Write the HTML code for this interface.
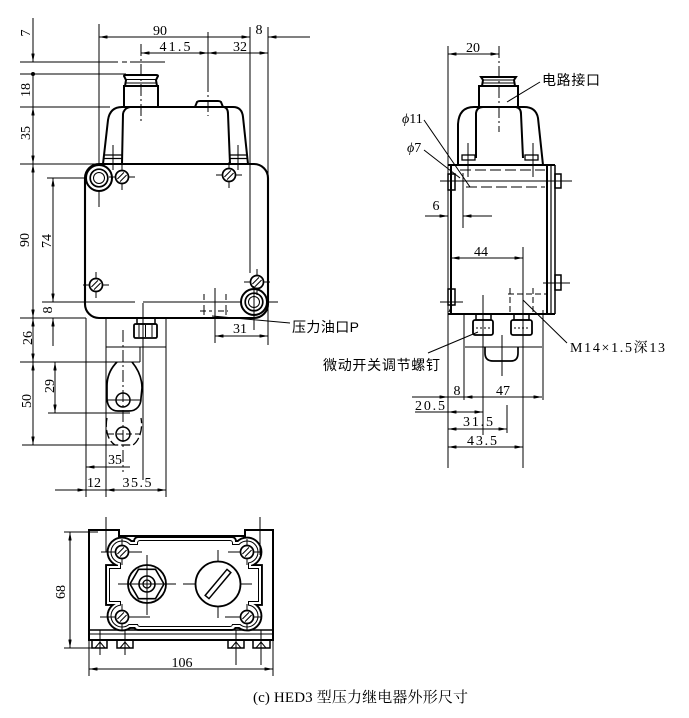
<!DOCTYPE html>
<html><head><meta charset="utf-8"><style>
html,body{margin:0;padding:0;background:#fff;}
svg{display:block;}
.t{stroke:#000;stroke-width:1;fill:none;}
.k{stroke:#000;stroke-width:2;fill:none;}
.n{font-family:"Liberation Serif",serif;font-size:14px;fill:#000;}
.c{font-family:"Liberation Sans","Noto Sans CJK SC",sans-serif;font-size:14px;fill:#000;}
.dd{stroke-dasharray:12 3 2 3;}
.ds{stroke-dasharray:6 3;}
</style></head><body>
<svg width="689" height="718" viewBox="0 0 689 718" xmlns="http://www.w3.org/2000/svg">
<defs>
<marker id="a" viewBox="0 0 10 4" refX="10" refY="2" markerWidth="9" markerHeight="3.4" orient="auto-start-reverse" markerUnits="userSpaceOnUse"><path d="M0,0L10,2L0,4z" fill="#000"/></marker>
<g id="sc"><circle r="6.5" fill="#fff" stroke="#000" stroke-width="1.7"/><line x1="-4.6" y1="2" x2="2" y2="-4.6" class="t"/><line x1="-2" y1="4.6" x2="4.6" y2="-2" class="t"/><line x1="-13" y1="0" x2="-6.5" y2="0" class="t"/><line x1="6.5" y1="0" x2="13" y2="0" class="t"/><line x1="0" y1="-13" x2="0" y2="-6.5" class="t"/><line x1="0" y1="6.5" x2="0" y2="13" class="t"/></g>
<g id="rg"><circle r="13" fill="#fff" stroke="#000" stroke-width="2"/><circle r="8.8" fill="none" stroke="#000" stroke-width="1.7"/><circle r="5.5" class="t"/></g>
</defs>
<rect width="689" height="718" fill="#fff"/>

<!-- ============ LEFT VIEW ============ -->
<line x1="99" y1="24" x2="99" y2="207" class="t"/>
<line x1="250" y1="27" x2="250" y2="273" class="t"/>
<line x1="268" y1="27" x2="268" y2="345" class="t"/>
<line x1="141" y1="44" x2="141" y2="122" class="t dd"/>
<line x1="208" y1="32" x2="208" y2="80" class="t"/>
<line x1="208" y1="80" x2="208" y2="116" class="t dd"/>
<line x1="99" y1="37" x2="250" y2="37" class="t" marker-start="url(#a)" marker-end="url(#a)"/>
<line x1="268" y1="37" x2="310" y2="37" class="t" marker-start="url(#a)"/>
<line x1="141" y1="53" x2="208" y2="53" class="t" marker-start="url(#a)" marker-end="url(#a)"/>
<line x1="208" y1="53" x2="268" y2="53" class="t" marker-start="url(#a)" marker-end="url(#a)"/>
<text class="n" x="160" y="35" text-anchor="middle">90</text>
<text class="n" x="259" y="34" text-anchor="middle">8</text>
<text class="n" x="175" y="51" text-anchor="middle" textLength="31">41.5</text>
<text class="n" x="240" y="51" text-anchor="middle">32</text>

<line x1="33" y1="18" x2="33" y2="62" class="t" marker-end="url(#a)"/>
<circle cx="33" cy="74" r="2" fill="#000"/>
<line x1="33" y1="74" x2="33" y2="107" class="t"/>
<line x1="33" y1="107" x2="33" y2="164" class="t" marker-start="url(#a)" marker-end="url(#a)"/>
<line x1="33" y1="164" x2="33" y2="318" class="t" marker-start="url(#a)" marker-end="url(#a)"/>
<line x1="33" y1="318" x2="33" y2="362" class="t" marker-start="url(#a)" marker-end="url(#a)"/>
<line x1="33" y1="362" x2="33" y2="445" class="t" marker-start="url(#a)" marker-end="url(#a)"/>
<line x1="20" y1="62" x2="118" y2="62" class="t"/>
<line x1="122" y1="62" x2="165" y2="62" class="t" style="stroke-dasharray:5 3 30 0"/>
<line x1="20" y1="74" x2="126" y2="74" class="t"/>
<line x1="20" y1="107" x2="110" y2="107" class="t"/>
<line x1="20" y1="164" x2="103" y2="164" class="t"/>
<line x1="20" y1="318" x2="86" y2="318" class="t"/>
<line x1="20" y1="362" x2="140" y2="362" class="t"/>
<line x1="22" y1="445" x2="118" y2="445" class="t"/>
<line x1="47" y1="178" x2="113" y2="178" class="t"/>
<line x1="42" y1="302" x2="135" y2="302" class="t"/>
<line x1="143" y1="302" x2="278" y2="302" class="t"/>
<line x1="48" y1="413" x2="130" y2="413" class="t"/>
<line x1="53" y1="178" x2="53" y2="302" class="t" marker-start="url(#a)" marker-end="url(#a)"/>
<line x1="53" y1="318" x2="53" y2="346" class="t" marker-start="url(#a)"/>
<line x1="55" y1="362" x2="55" y2="413" class="t" marker-start="url(#a)" marker-end="url(#a)"/>
<g class="n" text-anchor="middle">
<text transform="translate(25,33) rotate(-90)" y="5">7</text>
<text transform="translate(25,90) rotate(-90)" y="5">18</text>
<text transform="translate(25,133) rotate(-90)" y="5">35</text>
<text transform="translate(24,240) rotate(-90)" y="5">90</text>
<text transform="translate(46,241) rotate(-90)" y="5">74</text>
<text transform="translate(47,310) rotate(-90)" y="5">8</text>
<text transform="translate(27,338) rotate(-90)" y="5">26</text>
<text transform="translate(49,386) rotate(-90)" y="5">29</text>
<text transform="translate(26,401) rotate(-90)" y="5">50</text>
</g>

<path d="M103,164 L108,120 Q110,107 122,107 L233,107 Q242,107 243,117 L248,164" class="k"/>
<path d="M122,164 L123,114 Q124,108 130,107 M224,107 Q228,108 228,114 L230,164" class="k"/>
<line x1="104" y1="155" x2="122" y2="155" class="k" style="stroke-width:1.3"/>
<line x1="104" y1="158.5" x2="122" y2="158.5" class="k" style="stroke-width:1.3"/>
<line x1="230" y1="155" x2="247" y2="155" class="k" style="stroke-width:1.3"/>
<line x1="230" y1="158.5" x2="247" y2="158.5" class="k" style="stroke-width:1.3"/>
<line x1="113" y1="145" x2="113" y2="170" class="t"/>
<line x1="238" y1="145" x2="238" y2="170" class="t"/>
<path d="M195,107 L197,102 Q198,101 200,101 L218,101 Q220,101 221,102 L223,107" class="k"/>
<rect x="124" y="86" width="34" height="21" class="k"/>
<path d="M125,86 L126,80 L124,76 Q124,75 126,75 L156,75 Q158,75 158,76 L156,80 L157,86" class="k"/>
<line x1="126" y1="79.5" x2="156" y2="79.5" class="t"/>
<line x1="125" y1="83" x2="157" y2="83" class="t"/>

<rect x="85" y="164" width="183" height="154" rx="14" class="k" style="stroke-width:2.1"/>
<use href="#rg" x="99" y="178"/>
<use href="#rg" x="254" y="302"/>
<use href="#sc" x="122" y="177"/>
<use href="#sc" x="229" y="175"/>
<use href="#sc" x="96" y="285"/>
<use href="#sc" x="257" y="282"/>
<line x1="99" y1="190" x2="99" y2="207" class="t"/>
<line x1="254" y1="286" x2="254" y2="330" class="t"/>
<line x1="215" y1="288" x2="215" y2="343" class="t"/>
<line x1="204" y1="294" x2="204" y2="300" class="t"/>
<line x1="226" y1="294" x2="226" y2="300" class="t"/>
<line x1="204" y1="305" x2="204" y2="315" class="t"/>
<line x1="226" y1="305" x2="226" y2="315" class="t"/>
<line x1="200" y1="311" x2="212" y2="311" class="t ds"/>
<line x1="218" y1="311" x2="228" y2="311" class="t ds"/>
<line x1="212" y1="316" x2="290" y2="323" class="t"/>
<text class="c" x="292" y="332" textLength="67">压力油口P</text>
<line x1="215" y1="336" x2="268" y2="336" class="t" marker-start="url(#a)" marker-end="url(#a)"/>
<text class="n" x="240" y="333" text-anchor="middle">31</text>

<line x1="86" y1="318" x2="86" y2="497" class="t"/>
<line x1="106" y1="318" x2="106" y2="497" class="t"/>
<line x1="143" y1="303" x2="143" y2="480" class="t"/>
<line x1="166" y1="318" x2="166" y2="497" class="t"/>
<line x1="123" y1="330" x2="123" y2="472" class="t dd"/>
<line x1="106" y1="347" x2="166" y2="347" class="t"/>
<line x1="140" y1="347" x2="140" y2="362" class="t"/>
<rect x="137" y="318" width="18" height="6" class="k" style="stroke-width:1.5"/>
<rect x="134" y="324" width="23" height="14" rx="1.5" class="k" style="stroke-width:1.8"/>
<line x1="139" y1="325" x2="139" y2="337" class="t"/>
<line x1="145.5" y1="325" x2="145.5" y2="337" class="t"/>
<line x1="152" y1="325" x2="152" y2="337" class="t"/>
<path d="M117,362 C111,368 107,376 107,386 L107,398 C107,406 111,411 118,411 L129,411 C137,411 141,405 141,398 L142,388 C142,377 137,368 132,362" class="k" style="stroke-width:1.7"/>
<path d="M107,418 C105,428 107,440 115,445 L133,445 C140,440 143,428 141,418" class="t" style="stroke-width:1.3;stroke-dasharray:9 3"/>
<circle cx="123" cy="400" r="7" class="k" style="stroke-width:1.5"/>
<circle cx="123" cy="434" r="7" class="k" style="stroke-width:1.5"/>
<line x1="108" y1="400" x2="140" y2="400" class="t"/>
<line x1="108" y1="434" x2="140" y2="434" class="t ds"/>
<line x1="86" y1="467" x2="130" y2="467" class="t" marker-start="url(#a)"/>
<text class="n" x="115" y="464" text-anchor="middle">35</text>
<line x1="55" y1="490" x2="86" y2="490" class="t" marker-end="url(#a)"/>
<line x1="86" y1="490" x2="106" y2="490" class="t"/>
<line x1="106" y1="490" x2="166" y2="490" class="t" marker-start="url(#a)" marker-end="url(#a)"/>
<text class="n" x="94" y="487" text-anchor="middle">12</text>
<text class="n" x="137" y="487" text-anchor="middle" textLength="29">35.5</text>

<!-- ============ RIGHT VIEW ============ -->
<line x1="448" y1="46" x2="448" y2="468" class="t"/>
<line x1="499" y1="46" x2="499" y2="132" class="t dd"/>
<line x1="448" y1="54" x2="499" y2="54" class="t" marker-start="url(#a)" marker-end="url(#a)"/>
<text class="n" x="473" y="52" text-anchor="middle">20</text>
<path d="M458,165 L458,124 Q459,107 474,107 L524,107 Q536,107 538,118 L543,165" class="k"/>
<path d="M476,158 L476,113 Q477,107 483,107 M516,107 Q521,108 521,114 L523,158" class="k"/>
<rect x="462" y="155" width="13" height="5" class="k" style="stroke-width:1.3"/>
<rect x="525" y="155" width="13" height="5" class="k" style="stroke-width:1.3"/>
<line x1="468" y1="143" x2="468" y2="177" class="t"/>
<line x1="533" y1="143" x2="533" y2="177" class="t"/>
<rect x="479" y="86" width="39" height="21" class="k"/>
<path d="M482,86 L483,80 L481,77 L516,77 L514,80 L515,86" class="k"/>
<line x1="483" y1="80" x2="514" y2="80" class="t"/>
<line x1="482" y1="83" x2="515" y2="83" class="t"/>
<line x1="540" y1="82" x2="507" y2="102" class="t"/>
<text class="c" x="542" y="85" textLength="58">电路接口</text>
<line x1="448" y1="165" x2="555" y2="165" class="k"/>
<line x1="451" y1="165" x2="451" y2="314" class="k"/>
<line x1="547" y1="165" x2="547" y2="314" class="k"/>
<line x1="551" y1="165" x2="551" y2="314" class="k" style="stroke-width:1.2"/>
<line x1="555" y1="165" x2="555" y2="314" class="k" style="stroke-width:1.5"/>
<line x1="448" y1="314" x2="555" y2="314" class="k"/>
<rect x="448" y="174" width="7" height="16" class="k" style="stroke-width:1.5"/>
<rect x="448" y="289" width="7" height="16" class="k" style="stroke-width:1.5"/>
<line x1="452" y1="305" x2="449" y2="312" class="t"/>
<rect x="555" y="174" width="6" height="14" class="k" style="stroke-width:1.5"/>
<rect x="555" y="275" width="6" height="15" class="k" style="stroke-width:1.5"/>
<line x1="440" y1="181" x2="572" y2="181" class="t"/>
<line x1="440" y1="302" x2="463" y2="302" class="t"/>
<line x1="543" y1="283" x2="570" y2="283" class="t"/>
<line x1="460" y1="170" x2="545" y2="170" class="t" style="stroke-dasharray:11 4"/>
<line x1="466" y1="187" x2="545" y2="187" class="t" style="stroke-dasharray:11 4"/>
<line x1="463" y1="173" x2="463" y2="228" class="t"/>
<line x1="510" y1="288" x2="510" y2="312" class="t ds"/>
<line x1="533" y1="288" x2="533" y2="312" class="t ds"/>
<line x1="508" y1="294" x2="546" y2="294" class="t ds"/>
<text x="402" y="123" style="font-family:'Liberation Serif',serif;font-size:14px"><tspan font-style="italic">ϕ</tspan>11</text>
<text x="407" y="152" style="font-family:'Liberation Serif',serif;font-size:14px"><tspan font-style="italic">ϕ</tspan>7</text>
<line x1="424" y1="120" x2="470" y2="187" class="t"/>
<line x1="424" y1="150" x2="460" y2="178" class="t"/>
<line x1="425" y1="216" x2="448" y2="216" class="t" marker-end="url(#a)"/>
<line x1="463" y1="216" x2="492" y2="216" class="t" marker-start="url(#a)"/>
<text class="n" x="436" y="210" text-anchor="middle">6</text>
<line x1="451" y1="258" x2="523" y2="258" class="t" marker-start="url(#a)" marker-end="url(#a)"/>
<text class="n" x="481" y="256" text-anchor="middle">44</text>
<line x1="523" y1="247" x2="523" y2="468" class="t"/>
<line x1="523" y1="300" x2="567" y2="343" class="t"/>
<text x="570" y="352" textLength="95" style="font-family:'Liberation Serif','Noto Serif CJK SC',serif;font-size:14px">M14×1.5深13</text>
<rect x="476" y="314" width="15" height="6" class="k" style="stroke-width:1.5"/>
<rect x="473" y="320" width="20" height="15" rx="2" class="k" style="stroke-width:1.8"/>
<rect x="514" y="314" width="15" height="6" class="k" style="stroke-width:1.5"/>
<rect x="511" y="320" width="21" height="15" rx="2" class="k" style="stroke-width:1.8"/>
<line x1="476" y1="328" x2="490" y2="328" class="t" style="stroke-dasharray:2 2"/>
<line x1="514" y1="328" x2="529" y2="328" class="t" style="stroke-dasharray:2 2"/>
<line x1="465" y1="347" x2="542" y2="347" class="t"/>
<path d="M485,347 L485,353 Q485,361 493,361 L511,361 Q518,361 518,353 L518,347" class="k" style="stroke-width:1.7"/>
<line x1="464" y1="314" x2="464" y2="400" class="t"/>
<line x1="483" y1="295" x2="483" y2="435" class="t"/>
<line x1="502" y1="335" x2="502" y2="376" class="t"/>
<line x1="507" y1="405" x2="507" y2="433" class="t"/>
<line x1="543" y1="310" x2="543" y2="400" class="t"/>
<line x1="428" y1="353" x2="478" y2="332" class="t"/>
<text class="c" x="323" y="370" textLength="117">微动开关调节螺钉</text>
<line x1="412" y1="397" x2="448" y2="397" class="t" marker-end="url(#a)"/>
<line x1="448" y1="397" x2="464" y2="397" class="t"/>
<line x1="464" y1="397" x2="542" y2="397" class="t" marker-start="url(#a)" marker-end="url(#a)"/>
<text class="n" x="457" y="395" text-anchor="middle">8</text>
<text class="n" x="503" y="395" text-anchor="middle">47</text>
<line x1="415" y1="412" x2="448" y2="412" class="t"/>
<line x1="448" y1="412" x2="483" y2="412" class="t" marker-start="url(#a)" marker-end="url(#a)"/>
<text class="n" x="430" y="410" text-anchor="middle" textLength="30">20.5</text>
<line x1="448" y1="429" x2="507" y2="429" class="t" marker-start="url(#a)" marker-end="url(#a)"/>
<text class="n" x="478" y="426" text-anchor="middle" textLength="30">31.5</text>
<line x1="448" y1="447" x2="523" y2="447" class="t" marker-start="url(#a)" marker-end="url(#a)"/>
<text class="n" x="482" y="445" text-anchor="middle" textLength="30">43.5</text>

<!-- ============ BOTTOM VIEW ============ -->
<line x1="89" y1="530" x2="89" y2="676" class="t"/>
<line x1="273" y1="530" x2="273" y2="676" class="t"/>
<line x1="64" y1="532" x2="98" y2="532" class="t"/>
<line x1="64" y1="648" x2="92" y2="648" class="t"/>
<line x1="70" y1="532" x2="70" y2="648" class="t" marker-start="url(#a)" marker-end="url(#a)"/>
<text class="n" text-anchor="middle" transform="translate(60,592) rotate(-90)" y="5">68</text>
<line x1="89" y1="669" x2="273" y2="669" class="t" marker-start="url(#a)" marker-end="url(#a)"/>
<text class="n" x="182" y="667" text-anchor="middle">106</text>
<path d="M89,640 L89,530 L119,530 L119,536 L245,536 L245,530 L273,530 L273,640 Z" class="k"/>
<line x1="89" y1="630" x2="273" y2="630" class="k" style="stroke-width:1.5"/>
<line x1="89" y1="634" x2="273" y2="634" class="t"/>
<rect x="92" y="640" width="15" height="8" class="k" style="stroke-width:1.5"/>
<rect x="117" y="640" width="16" height="8" class="k" style="stroke-width:1.5"/>
<rect x="228" y="640" width="16" height="8" class="k" style="stroke-width:1.5"/>
<rect x="253" y="640" width="17" height="8" class="k" style="stroke-width:1.5"/>
<path d="M95,648 L100,642 L105,648 M120,648 L125,642 L130,648 M231,648 L236,642 L241,648 M256,648 L261,642 L266,648" class="t"/>
<line x1="100" y1="630" x2="100" y2="655" class="t"/>
<line x1="125" y1="630" x2="125" y2="655" class="t"/>
<line x1="236" y1="630" x2="236" y2="665" class="t"/>
<line x1="261" y1="630" x2="261" y2="665" class="t"/>
<g stroke="#000" stroke-width="3.8" fill="#fff">
<rect x="135" y="538" width="100" height="91" rx="3"/>
<rect x="107" y="566" width="154" height="38"/>
<rect x="118" y="542" width="133" height="85" rx="4"/>
<circle cx="122" cy="552" r="13.5"/><circle cx="247" cy="552" r="13.5"/>
<circle cx="122" cy="616" r="13.5"/><circle cx="247" cy="616" r="13.5"/>
</g>
<g fill="#fff">
<rect x="135" y="538" width="100" height="91" rx="3"/>
<rect x="107" y="566" width="154" height="38"/>
<rect x="118" y="542" width="133" height="85" rx="4"/>
<circle cx="122" cy="552" r="13.5"/><circle cx="247" cy="552" r="13.5"/>
<circle cx="122" cy="616" r="13.5"/><circle cx="247" cy="616" r="13.5"/>
</g>
<g stroke="#000" stroke-width="2" fill="#fff">
<rect x="138" y="541" width="94" height="85" rx="2"/>
<rect x="110" y="569" width="148" height="32"/>
<rect x="121" y="545" width="127" height="79" rx="3"/>
<circle cx="122" cy="552" r="10.5"/><circle cx="247" cy="552" r="10.5"/>
<circle cx="122" cy="616" r="10.5"/><circle cx="247" cy="616" r="10.5"/>
</g>
<g fill="#fff">
<rect x="138" y="541" width="94" height="85" rx="2"/>
<rect x="110" y="569" width="148" height="32"/>
<rect x="121" y="545" width="127" height="79" rx="3"/>
<circle cx="122" cy="552" r="10.5"/><circle cx="247" cy="552" r="10.5"/>
<circle cx="122" cy="616" r="10.5"/><circle cx="247" cy="616" r="10.5"/>
</g>
<line x1="106" y1="517" x2="106" y2="552" class="t"/>
<line x1="260" y1="517" x2="260" y2="555" class="t"/>
<line x1="101" y1="552" x2="142" y2="552" class="t"/>
<line x1="100" y1="617" x2="150" y2="617" class="t"/>
<line x1="228" y1="552" x2="262" y2="552" class="t"/>
<line x1="225" y1="617" x2="262" y2="617" class="t"/>
<use href="#sc" x="122" y="552"/>
<use href="#sc" x="247" y="552"/>
<use href="#sc" x="122" y="617"/>
<use href="#sc" x="247" y="617"/>
<line x1="147" y1="555" x2="147" y2="615" class="t"/>
<line x1="118" y1="584" x2="176" y2="584" class="t"/>
<circle cx="147" cy="584" r="19" class="k" style="stroke-width:1.8"/>
<polygon points="164,584 155.5,569.3 138.5,569.3 130,584 138.5,598.7 155.5,598.7" class="k" style="stroke-width:1.6"/>
<circle cx="147" cy="584" r="8" class="k" style="stroke-width:1.6"/>
<circle cx="147" cy="584" r="4" class="k" style="stroke-width:1.3"/>
<line x1="218" y1="550" x2="218" y2="618" class="t"/>
<line x1="183" y1="584" x2="252" y2="584" class="t"/>
<circle cx="218" cy="584" r="22.5" fill="#fff" stroke="#000" stroke-width="1.8"/>
<rect x="201" y="581.5" width="34" height="5" fill="#fff" stroke="#000" stroke-width="1.5" transform="rotate(-50 218 584)"/>

<text x="253" y="702" textLength="215" style="font-family:'Liberation Serif','Noto Serif CJK SC',serif;font-size:15px">(c) HED3 型压力继电器外形尺寸</text>
</svg>
</body></html>
